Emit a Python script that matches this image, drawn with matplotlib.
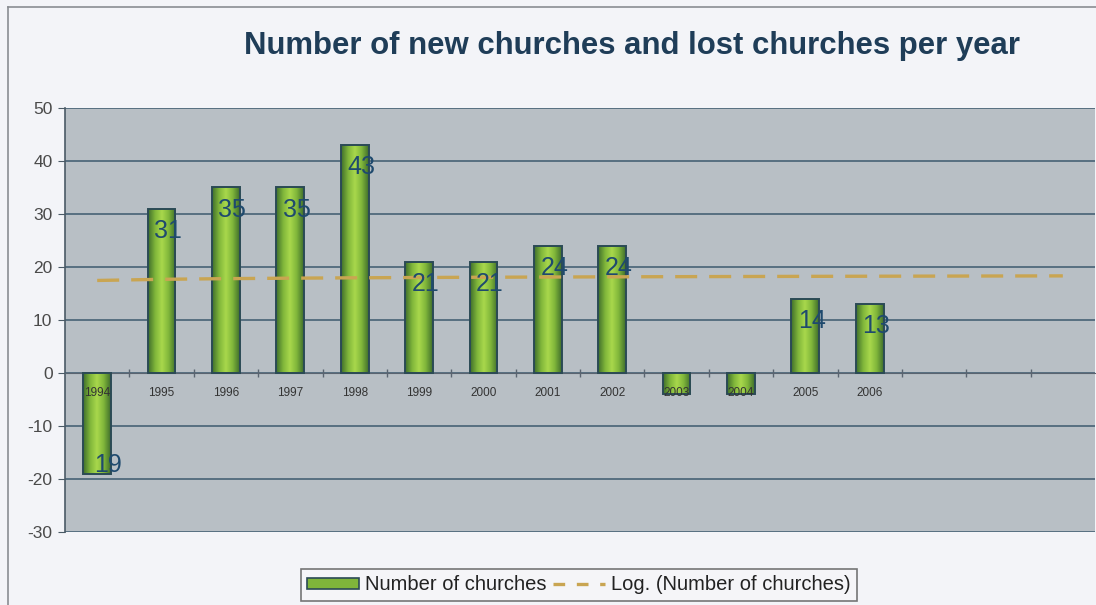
import numpy as np
import matplotlib.pyplot as plt
from matplotlib.colors import LinearSegmentedColormap
from matplotlib.patches import Rectangle
from matplotlib.lines import Line2D

plt.rcParams['font.family'] = ['Liberation Sans', 'DejaVu Sans']
plt.rcParams['axes.unicode_minus'] = False

# data
years = ['1994', '1995', '1996', '1997', '1998', '1999', '2000', '2001',
         '2002', '2003', '2004', '2005', '2006', '', '', '']
values = [-19, 31, 35, 35, 43, 21, 21, 24, 24, -4, -4, 14, 13]
value_labels = ['19', '31', '35', '35', '43', '21', '21', '24', '24', '', '', '14', '13']

title_str = 'Number of new churches and lost churches per year'
bar_name = 'Number of churches'
trend_name = 'Log. (Number of churches)'

W, H = 1096, 605
fig = plt.figure(figsize=(W / 100, H / 100), dpi=100, facecolor='#f3f4f8')
ax = fig.add_axes([65 / W, 1 - 532 / H, 1030 / W, 424 / H])
ax.set_facecolor('#b8bfc5')

# outer chart frame (left and top edges visible)
fig.add_artist(Line2D([8 / W, 8 / W], [0, 1 - 7 / H], color='#8a8d92', lw=1.2))
fig.add_artist(Line2D([8 / W, 1], [1 - 7 / H, 1 - 7 / H], color='#8a8d92', lw=1.2))

x = np.arange(len(values))
bars = ax.bar(x, values, width=0.43, facecolor='none', edgecolor='#2b4a55',
              linewidth=1.4, zorder=3)

# green gradient inside each bar
green = LinearSegmentedColormap.from_list(
    'g', ['#3f6e2c', '#7fb53a', '#a9d84c', '#7fb53a', '#3f6e2c'])
grad = np.linspace(0, 1, 64).reshape(1, -1)
for b in bars:
    bx, by = b.get_x(), b.get_y()
    bw, bh = b.get_width(), b.get_height()
    im = ax.imshow(grad, extent=[bx, bx + bw, by, by + bh], aspect='auto',
                   cmap=green, zorder=2.9, interpolation='bilinear')
    im.set_clip_path(b)

# value labels inside the bar ends
for i, (v, lab) in enumerate(zip(values, value_labels)):
    if lab == '':
        continue
    if v >= 0:
        ax.text(i + 0.1, v - 4.2, lab, ha='center', va='center',
                fontsize=18, color='#1f4a6e', zorder=5)
    else:
        ax.text(i + 0.17, v + 1.6, lab, ha='center', va='center',
                fontsize=18, color='#1f4a6e', zorder=5)

# logarithmic trendline (least squares on ln x), extended over all categories
xs = np.arange(1, len(values) + 1)
a, b0 = np.polyfit(np.log(xs), values, 1)
xt = np.arange(1, len(years) + 1)
ax.plot(xt - 1, a * np.log(xt) + b0, color='#c9a552', lw=2.4,
        dashes=(6.6, 3.6), zorder=4)

ax.set_xlim(-0.5, len(years) - 0.5)
ax.set_ylim(-30, 50)
ax.set_yticks(range(-30, 51, 10))
ax.yaxis.grid(True, color='#3d5a6e', lw=1.1, zorder=1)
ax.set_axisbelow(True)

ax.spines['bottom'].set_position(('data', 0))
ax.spines['bottom'].set_color('#5a6470')
ax.spines['bottom'].set_zorder(2.5)
ax.spines['top'].set_visible(False)
ax.spines['right'].set_visible(False)
ax.spines['left'].set_color('#4a5a66')
ax.spines['left'].set_linewidth(1.2)

ax.set_xticks(x.tolist() + list(range(len(values), len(years))))
ax.set_xticklabels(years, fontsize=8.5, color='#333333')
ax.set_xticks(np.arange(0.5, len(years) - 0.5, 1), minor=True)
ax.tick_params(axis='x', which='major', length=0, pad=10)
ax.tick_params(axis='x', which='minor', length=6, direction='inout',
               color='#5a6470', width=1)
ax.tick_params(axis='y', length=5, color='#4a5a66', labelsize=12.5,
               labelcolor='#4a4a4a', pad=4)
ax.xaxis.set_zorder(6)  # year labels sit on top of the negative bars

fig.text(0.577, 1 - 46 / H, title_str, ha='center', va='center',
         fontsize=22.4, fontweight='bold', color='#1f3d58')

handles = [Rectangle((0, 0), 1, 1, facecolor='#7fb53a', edgecolor='#2b4a55', lw=1.2),
           Line2D([0], [0], color='#c9a552', lw=2.4, dashes=(3.5, 3.5))]
leg = fig.legend(handles, [bar_name, trend_name], loc='center',
                 bbox_to_anchor=(579 / W, 1 - 585 / H), ncol=2, fontsize=14.5,
                 frameon=True, fancybox=False, edgecolor='#555555',
                 facecolor='#f6f6f8', handlelength=2.6, handleheight=0.5,
                 columnspacing=0.3, handletextpad=0.3, borderpad=0.3)
leg.get_frame().set_linewidth(1.2)
for t in leg.get_texts():
    t.set_color('#222222')

fig.savefig('out.png', dpi=100, facecolor=fig.get_facecolor())
